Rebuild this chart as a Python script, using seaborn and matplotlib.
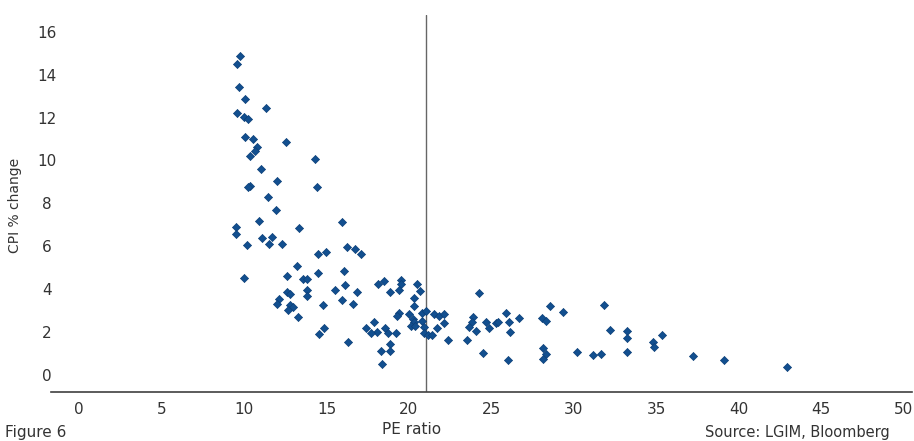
import matplotlib
matplotlib.use("Agg")
import matplotlib.pyplot as plt
import pandas as pd
import seaborn as sns

# PE ratio vs CPI % change
pe_ratio = [
    9.76, 9.58, 9.68, 10.08, 11.35, 9.58, 9.98, 10.26, 10.06, 10.56,
    12.53, 10.77, 10.65, 10.35, 14.28, 11.01, 12.02, 10.35, 10.24, 14.42,
    11.44, 11.94, 10.93, 13.33, 9.50, 9.50, 11.09, 11.68, 11.52, 12.32,
    10.16, 14.50, 13.19, 9.98, 12.62, 13.60, 13.80, 14.48, 15.94, 16.22,
    16.73, 17.07, 14.97, 16.04, 15.53, 16.12, 16.87, 13.80, 13.82, 12.59,
    12.79, 12.10, 12.02, 12.77, 12.99, 12.69, 14.81, 15.96, 16.59, 13.27,
    14.87, 14.53, 16.30, 18.14, 18.48, 19.52, 19.54, 20.50, 18.87, 19.38,
    20.68, 20.28, 20.28, 24.22, 19.39, 19.27, 20.02, 20.81, 21.05, 21.52,
    21.82, 22.10, 20.26, 20.32, 20.79, 17.86, 20.10, 20.35, 17.38, 18.53,
    18.04, 17.72, 18.71, 19.19, 20.89, 21.70, 22.12, 20.89, 21.15, 21.39,
    22.36, 23.53, 18.87, 18.30, 18.87, 18.35, 23.88, 23.84, 23.62, 24.70,
    24.06, 24.48, 24.88, 25.27, 25.41, 25.86, 26.08, 26.65, 26.14, 25.98,
    28.08, 28.30, 28.56, 29.33, 28.14, 28.30, 28.14, 30.22, 31.19, 31.64,
    31.82, 32.20, 33.25, 33.25, 33.25, 34.81, 34.83, 35.33, 37.25, 39.11,
    42.95,
]
cpi_change = [
    14.89, 14.50, 13.44, 12.88, 12.46, 12.20, 12.03, 11.92, 11.08, 10.99,
    10.88, 10.62, 10.44, 10.22, 10.08, 9.62, 9.04, 8.81, 8.76, 8.78,
    8.30, 7.69, 7.17, 6.85, 6.91, 6.59, 6.37, 6.43, 6.11, 6.11,
    6.05, 5.63, 5.10, 4.51, 4.60, 4.46, 4.46, 4.77, 7.13, 5.95,
    5.86, 5.64, 5.73, 4.83, 3.96, 4.18, 3.86, 3.96, 3.70, 3.86,
    3.79, 3.54, 3.32, 3.28, 3.17, 3.04, 3.28, 3.48, 3.31, 2.70,
    2.21, 1.90, 1.54, 4.23, 4.40, 4.41, 4.23, 4.23, 3.86, 3.96,
    3.92, 3.59, 3.22, 3.81, 2.91, 2.75, 2.84, 2.88, 2.98, 2.84,
    2.75, 2.86, 2.62, 2.47, 2.52, 2.47, 2.30, 2.27, 2.19, 2.19,
    2.00, 1.94, 1.94, 1.94, 2.25, 2.21, 2.44, 1.94, 1.86, 1.88,
    1.62, 1.62, 1.46, 1.13, 1.13, 0.50, 2.69, 2.46, 2.25, 2.46,
    2.07, 1.03, 2.21, 2.44, 2.49, 2.90, 2.47, 2.64, 1.99, 0.70,
    2.64, 2.53, 3.22, 2.95, 1.24, 0.99, 0.76, 1.09, 0.93, 0.96,
    3.26, 2.10, 2.05, 1.71, 1.07, 1.52, 1.32, 1.88, 0.87, 0.70,
    0.37,
]
x_ticks = [0, 5, 10, 15, 20, 25, 30, 35, 40, 45, 50]
y_ticks = [0, 2, 4, 6, 8, 10, 12, 14, 16]
current_pe = 21.03

df = pd.DataFrame({"pe": pe_ratio, "cpi": cpi_change})

sns.set_style("white")
plt.rcParams["font.family"] = ["DejaVu Sans"]
text_col = "#333333"

fig = plt.figure(figsize=(9.14, 4.41), dpi=100)
ax = fig.add_axes([51 / 914, 49 / 441, 861 / 914, 377 / 441])

sns.scatterplot(data=df, x="pe", y="cpi", marker="D", s=17,
                color="#124f8f", edgecolor="#0b3f78", linewidth=0.5, ax=ax)
ax.axvline(current_pe, color="#666666", linewidth=1.0, zorder=0)

ax.set_xlim(-1.7, 50.5)
ax.set_ylim(-0.79, 16.78)
ax.set_xticks(x_ticks)
ax.set_yticks(y_ticks)
ax.tick_params(axis="x", length=0, pad=7, labelsize=11, labelcolor=text_col)
ax.tick_params(axis="y", length=0, pad=3, labelsize=11, labelcolor=text_col)
for lab in ax.get_yticklabels():
    lab.set_horizontalalignment("center")
ax.set_xlabel("")
ax.set_ylabel("")

for side in ["top", "right", "left"]:
    ax.spines[side].set_visible(False)
ax.spines["bottom"].set_color("#404040")
ax.spines["bottom"].set_linewidth(1.2)

fig.text(15 / 914, 1 - 205 / 441, "CPI % change", rotation=90,
         ha="center", va="center", fontsize=10, color=text_col)
fig.text(412 / 914, 1 - 429 / 441, "PE ratio", ha="center", va="center",
         fontsize=11, color=text_col)
fig.text(5 / 914, 1 - 433 / 441, "Figure 6", ha="left", va="center",
         fontsize=11, color=text_col)
fig.text(705 / 914, 1 - 433 / 441, "Source: LGIM, Bloomberg", ha="left",
         va="center", fontsize=10.5, color=text_col)

fig.savefig("out.png", dpi=100)
